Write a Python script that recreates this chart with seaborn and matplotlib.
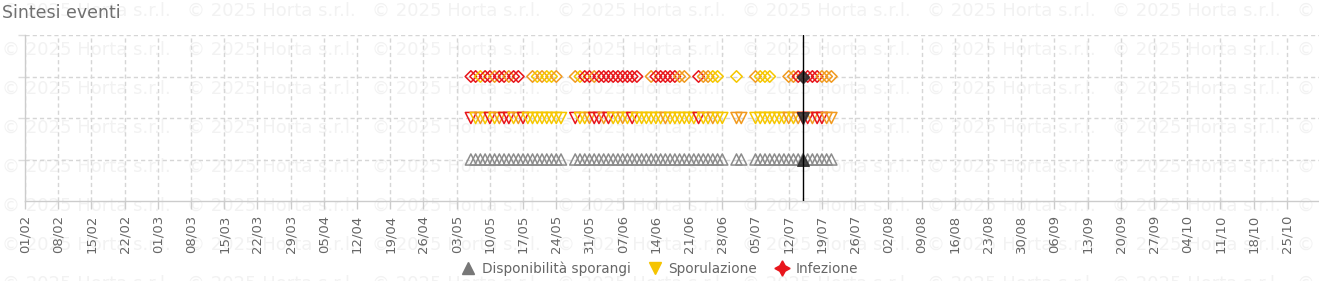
import matplotlib
matplotlib.use("Agg")
import matplotlib.pyplot as plt
import numpy as np
import pandas as pd
import seaborn as sns
from matplotlib.lines import Line2D

YEAR = 2025

# ---------------- data ----------------
tick_labels = ["01/02", "08/02", "15/02", "22/02", "01/03", "08/03", "15/03", "22/03",
               "29/03", "05/04", "12/04", "19/04", "26/04", "03/05", "10/05", "17/05",
               "24/05", "31/05", "07/06", "14/06", "21/06", "28/06", "05/07", "12/07",
               "19/07", "26/07", "02/08", "09/08", "16/08", "23/08", "30/08", "06/09",
               "13/09", "20/09", "27/09", "04/10", "11/10", "18/10", "25/10"]

disp_dates = ["06/05", "07/05", "08/05", "09/05", "10/05", "11/05", "12/05", "13/05",
              "14/05", "15/05", "16/05", "17/05", "18/05", "19/05", "20/05", "21/05",
              "22/05", "23/05", "24/05", "25/05",
              "28/05", "29/05", "30/05", "31/05", "01/06", "02/06", "03/06", "04/06",
              "05/06", "06/06", "07/06", "08/06", "09/06", "10/06", "11/06", "12/06",
              "13/06", "14/06", "15/06", "16/06", "17/06", "18/06", "19/06", "20/06",
              "21/06", "22/06", "23/06", "24/06", "25/06", "26/06", "27/06", "28/06",
              "01/07", "02/07",
              "05/07", "06/07", "07/07", "08/07", "09/07", "10/07", "11/07", "12/07",
              "13/07", "14/07", "15/07", "16/07", "17/07", "18/07", "19/07", "20/07",
              "21/07"]

spor_dates = disp_dates
spor_levels = ["alto", "basso", "medio", "basso", "alto", "basso", "medio", "alto",
               "alto", "basso", "medio", "alto", "basso", "basso", "basso", "basso",
               "basso", "basso", "basso", "basso",
               "alto", "basso", "basso", "medio", "alto", "alto", "medio", "alto",
               "basso", "basso", "medio", "basso", "alto", "basso", "basso", "basso",
               "basso", "basso", "basso", "medio", "basso", "basso", "basso", "basso",
               "basso", "basso", "alto", "basso", "basso", "medio", "basso", "basso",
               "medio", "medio",
               "basso", "basso", "basso", "basso", "basso", "basso", "basso", "medio",
               "basso", "medio", "alto", "alto", "medio", "alto", "alto", "medio",
               "medio"]

inf_dates = ["06/05", "07/05", "08/05", "09/05", "10/05", "11/05", "12/05", "13/05",
             "14/05", "15/05", "16/05",
             "19/05", "20/05", "21/05", "22/05", "23/05", "24/05",
             "28/05", "29/05", "30/05", "31/05", "01/06", "02/06", "03/06", "04/06",
             "05/06", "06/06", "07/06", "08/06", "09/06", "10/06",
             "13/06", "14/06", "15/06", "16/06", "17/06", "18/06", "19/06", "20/06",
             "23/06", "24/06", "25/06", "26/06", "27/06",
             "01/07",
             "05/07", "06/07", "07/07", "08/07",
             "12/07", "13/07", "14/07", "15/07", "16/07", "17/07", "18/07", "19/07",
             "20/07", "21/07"]
inf_levels = ["alto", "alto", "basso", "alto", "alto", "medio", "alto", "alto",
              "medio", "alto", "alto",
              "medio", "basso", "medio", "basso", "basso", "medio",
              "medio", "basso", "alto", "alto", "medio", "alto", "alto", "alto",
              "alto", "alto", "alto", "alto", "alto", "alto",
              "medio", "alto", "alto", "alto", "alto", "alto", "medio", "medio",
              "alto", "medio", "medio", "basso", "basso",
              "basso",
              "medio", "basso", "basso", "basso",
              "medio", "medio", "alto", "alto", "alto", "alto", "alto", "medio",
              "medio", "medio"]

current_date = "15/07"

series_names = ["Disponibilità sporangi", "Sporulazione", "Infezione"]
series_rows = [1, 2, 3]

# ---------------- style ----------------
level_colors = {"basso": "#f6c700", "medio": "#f19a1f", "alto": "#e8151b"}
disp_color = "#8c8c8c"
today_color = "#333333"
text_color = "#666666"
grid_color = "#d6d6d6"


def to_date(s):
    d, m = s.split("/")
    return pd.Timestamp(YEAR, int(m), int(d))


sns.set_theme(style="white")
plt.rcParams["font.family"] = ["DejaVu Sans"]

W, H = 1319, 281
fig = plt.figure(figsize=(W / 100, H / 100), dpi=100)
fig.patch.set_facecolor("white")

# watermark
for r in range(8):
    for c in range(8):
        fig.text((2 + 185 * c) / W, 1 - (11 + 39 * r) / H, "© 2025 Horta s.r.l.",
                 fontsize=13, color="#f2f2f2", ha="left", va="center", zorder=0)

ax = fig.add_axes([25 / W, 80 / H, 1 - 25 / W, 166 / H])
ax.set_facecolor("none")
ax.set_zorder(1)

disp_df = pd.DataFrame({"date": [to_date(s) for s in disp_dates],
                        "row": series_rows[0], "level": "disp"})
spor_df = pd.DataFrame({"date": [to_date(s) for s in spor_dates],
                        "row": series_rows[1], "level": spor_levels})
inf_df = pd.DataFrame({"date": [to_date(s) for s in inf_dates],
                       "row": series_rows[2], "level": inf_levels})


def hollow(ax):
    coll = ax.collections[-1]
    fc = coll.get_facecolors()
    coll.set_edgecolors(fc)
    coll.set_facecolors("none")


sns.scatterplot(data=disp_df, x="date", y="row", hue="level",
                palette={"disp": disp_color}, marker="^", s=64, linewidth=1.1,
                legend=False, ax=ax, zorder=3)
hollow(ax)
sns.scatterplot(data=spor_df, x="date", y="row", hue="level",
                palette=level_colors, marker="v", s=64, linewidth=1.1,
                legend=False, ax=ax, zorder=3)
hollow(ax)
sns.scatterplot(data=inf_df, x="date", y="row", hue="level",
                palette=level_colors, marker="D", s=34, linewidth=1.1,
                legend=False, ax=ax, zorder=3)
hollow(ax)

today = to_date(current_date)
for row, mk, sz in zip(series_rows, ["^", "v", "D"], [70, 70, 38]):
    sns.scatterplot(x=[today], y=[row], marker=mk, s=sz, color=today_color,
                    edgecolor=today_color, linewidth=1.0, alpha=0.9,
                    legend=False, ax=ax, zorder=4)
ax.axvline(today, color="black", lw=1.0, zorder=5)

# axes
x0 = to_date(tick_labels[0])
ax.set_xlim(x0, x0 + pd.Timedelta(days=272.8))
ax.set_ylim(0, 4)
ax.set_xticks([to_date(t) for t in tick_labels])
ax.set_xticklabels(tick_labels, rotation=90, fontsize=9.5, color=text_color)
ax.set_yticks([1, 2, 3, 4])
ax.set_yticklabels([])
ax.set_xlabel("")
ax.set_ylabel("")
ax.tick_params(axis="x", bottom=True, direction="out", length=6, width=1,
               color="#cccccc", pad=4)
ax.tick_params(axis="y", left=True, direction="out", length=5, width=1,
               color="#dddddd")
ax.grid(True, linestyle=(0, (3, 2.2)), color=grid_color, linewidth=1)
for sp in ["top", "right"]:
    ax.spines[sp].set_visible(False)
for sp in ["left", "bottom"]:
    ax.spines[sp].set_color("#cccccc")
    ax.spines[sp].set_linewidth(1)

fig.text(2 / W, 1 - 13 / H, "Sintesi eventi", fontsize=12.5, color="#707070",
         ha="left", va="center", zorder=6)

handles = [
    Line2D([], [], marker="^", color="#777777", linestyle="none", markersize=8),
    Line2D([], [], marker="v", color="#f5c400", linestyle="none", markersize=8),
    Line2D([], [], marker=(4, 1, 0), color="#e8151b", linestyle="none", markersize=11),
]
fig.legend(handles, series_names, loc="center", bbox_to_anchor=(0.5, 1 - 269 / H),
           ncol=3, frameon=False, fontsize=9.8, labelcolor=text_color,
           handlelength=1.0, handletextpad=0.5, columnspacing=1.3)

fig.savefig("out.png", dpi=100)
